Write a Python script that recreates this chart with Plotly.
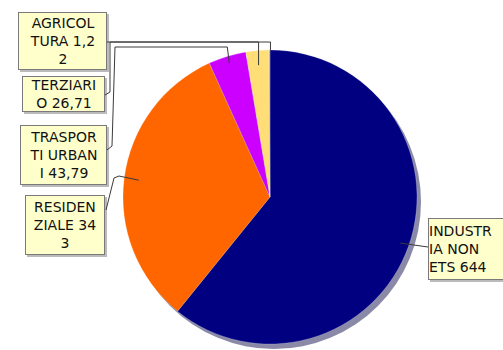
import math
import plotly.graph_objects as go

# ---- data ----
categories = ["INDUSTRIA NON ETS", "RESIDENZIALE", "TRASPORTI URBANI", "TERZIARIO", "AGRICOLTURA"]
values = [644, 343, 43.79, 26.71, 1.22]
label_lines = [
    ["INDUSTR", "IA NON", "ETS 644"],
    ["RESIDEN", "ZIALE 34", "3"],
    ["TRASPOR", "TI URBAN", "I 43,79"],
    ["TERZIARI", "O 26,71"],
    ["AGRICOL", "TURA 1,2", "2"],
]
colors = ["#000080", "#FF6600", "#CC00FF", "#FFDD77", "#99CC33"]

# ---- layout constants ----
W, H = 503, 350
CX, CY, R = 270, 197, 147


def px(x):
    return x / W


def py(y):
    return 1 - y / H


fig = go.Figure()
fig.add_trace(go.Pie(
    labels=categories,
    values=values,
    sort=False,
    direction="clockwise",
    rotation=0,
    marker=dict(colors=colors, line=dict(color="rgba(255,255,255,0.4)", width=0.5)),
    textinfo="none",
    hoverinfo="label+value",
    showlegend=False,
    domain=dict(x=[px(CX - R), px(CX + R)], y=[py(CY + R), py(CY - R)]),
))

# slice mid-angle points (clockwise from 12 o'clock)
total = sum(values)
mids = []
acc = 0
for v in values:
    mids.append((acc + v / 2) / total * 2 * math.pi)
    acc += v


def slice_pt(i, rf):
    a = mids[i]
    return CX + R * rf * math.sin(a), CY - R * rf * math.cos(a)


shapes = []
# shadow
shapes.append(dict(type="circle", xref="paper", yref="paper", layer="below",
                   x0=px(CX - R + 4), x1=px(CX + R + 4), y0=py(CY + R + 5), y1=py(CY - R + 5),
                   fillcolor="#8A8AA8", line=dict(width=0)))


def poly(points):
    d = "M " + " L ".join(f"{px(x)},{py(y)}" for x, y in points)
    shapes.append(dict(type="path", xref="paper", yref="paper", path=d,
                       line=dict(color="#3a3a3a", width=1)))


# leader lines
ix, iy = slice_pt(0, 0.94)
poly([(428, 247), (ix, iy)])
rx, ry = slice_pt(1, 0.9)
poly([(106, 210), (114, 178), (119, 176), (rx, ry)])
tx, ty = slice_pt(2, 0.95)
poly([(107, 150), (112, 146), (115, 47), (tx - 2, 47), (tx, ty)])
zx, zy = slice_pt(3, 0.9)
poly([(105, 95), (110, 92), (110, 42), (zx, 42), (zx, zy)])
ax, ay = slice_pt(4, 1.0)
poly([(107, 42), (ax + 1, 42), (ax + 1, ay)])

# box shadows
boxes = [
    (428, 218, 100, 62, "left"),
    (25, 195, 80, 60, "center"),
    (20, 125, 87, 60, "center"),
    (22, 76, 83, 36, "center"),
    (18, 12, 89, 58, "center"),
]
for bx, by, bw, bh, _ in boxes:
    shapes.append(dict(type="rect", xref="paper", yref="paper", layer="below",
                       x0=px(bx + 2), x1=px(bx + bw + 2), y0=py(by + bh + 2), y1=py(by + 2),
                       fillcolor="#BBBBBB", line=dict(width=0)))

fig.update_layout(shapes=shapes)

annotations = []
for (bx, by, bw, bh, al), lines in zip(boxes, label_lines):
    text = "<br>".join(lines)
    annotations.append(dict(
        x=px(bx), y=py(by), xref="paper", yref="paper",
        xanchor="left", yanchor="top", align=al,
        width=bw - 2, height=bh - 2,
        text=text, showarrow=False, bgcolor="#FFFFCC",
        bordercolor="#7a7a7a", borderwidth=1, borderpad=0,
        font=dict(family="DejaVu Sans", size=14, color="#111111")))

fig.update_layout(
    width=W, height=H,
    margin=dict(l=0, r=0, t=0, b=0),
    paper_bgcolor="white",
    plot_bgcolor="white",
    annotations=annotations,
)

fig.write_html("out.html", config={"displayModeBar": False},
               post_script="document.body.style.margin='0';document.body.style.overflow='hidden';")
